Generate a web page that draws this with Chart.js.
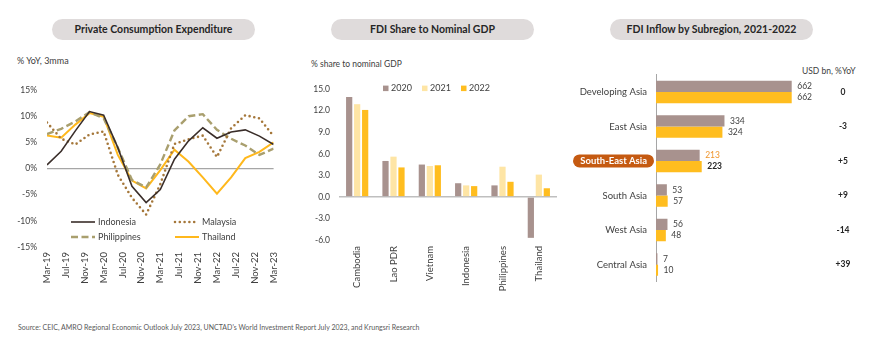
<!DOCTYPE html>
<html>
<head>
<meta charset="utf-8">
<script src="https://cdn.jsdelivr.net/npm/chart.js@4.4.0/dist/chart.umd.min.js"></script>
<style>
  body { margin: 0; background: #fff; font-family: Lato, sans-serif; }
  #page { position: relative; width: 870px; height: 348px; overflow: hidden; }
  .pill { position: absolute; top: 19px; width: 203px; height: 21px; line-height: 21px; border-radius: 11px;
          background: #dfdbdb; color: #262626; font-weight: bold; font-size: 10.5px; text-align: center; }
  .note { position: absolute; font-size: 8.5px; line-height: 10px; color: #404040; white-space: nowrap; }
  canvas { position: absolute; }
</style>
</head>
<body>
<div id="page">
  <div class="pill" style="left:52px">Private Consumption Expenditure</div>
  <div class="pill" style="left:331px">FDI Share to Nominal GDP</div>
  <div class="pill" style="left:610px">FDI Inflow by Subregion, 2021-2022</div>
  <div class="note" style="left:17px;top:56px;font-size:9px">% YoY, 3mma</div>
  <div class="note" style="left:311px;top:59px">% share to nominal GDP</div>
  <div class="note" style="left:802px;top:66px">USD bn, %YoY</div>
  <div class="note" style="left:18px;top:322px;font-size:7px;color:#595959">Source: CEIC, AMRO Regional Economic Outlook July 2023, UNCTAD's World Investment Report July 2023, and Krungsri Research</div>
  <canvas id="pce" width="290" height="222" style="left:0;top:75px"></canvas>
  <canvas id="fdiShare" width="290" height="225" style="left:290px;top:75px"></canvas>
  <canvas id="fdiInflow" width="310" height="250" style="left:560px;top:60px"></canvas>
</div>
<script>
const MONTHS = ['Jan','Feb','Mar','Apr','May','Jun','Jul','Aug','Sep','Oct','Nov','Dec'];

// private consumption, % YoY 3mma (quarterly)
const pceQuarters = ['Mar-19','Jun-19','Sep-19','Dec-19','Mar-20','Jun-20','Sep-20','Dec-20','Mar-21',
                     'Jun-21','Sep-21','Dec-21','Mar-22','Jun-22','Sep-22','Dec-22','Mar-23'];
const pceTickLabels = ['Mar-19','Jul-19','Nov-19','Mar-20','Jul-20','Nov-20','Mar-21','Jul-21','Nov-21',
                       'Mar-22','Jul-22','Nov-22','Mar-23'];
const indonesia   = [0.7, 3.3, 7.2, 10.9, 10.2, 4.0, -3.4, -6.5, -4.0, 1.8, 5.3, 7.8, 5.8, 7.0, 7.4, 6.2, 4.6];
const malaysia    = [8.8, 5.7, 4.6, 6.5, 7.1, -1.2, -5.6, -8.8, -3.0, 4.7, 5.6, 6.3, 2.2, 7.7, 10.2, 9.6, 6.2];
const philippines = [6.6, 7.6, 9.0, 10.8, 9.6, 4.0, -2.2, -3.6, 0.8, 7.3, 10.0, 10.4, 7.4, 5.7, 4.4, 2.6, 3.8];
const thailand    = [6.3, 5.9, 8.4, 10.6, 9.9, 2.6, -2.3, -3.8, -0.3, 3.6, 1.3, -1.7, -4.8, -1.7, 2.0, 3.2, 5.0];

// FDI share to nominal GDP, %
const fdiCountries = ['Cambodia','Lao PDR','Vietnam','Indonesia','Philippines','Thailand'];
const fdi2020 = [13.9, 5.0, 4.5, 1.9, 1.6, -5.7];
const fdi2021 = [12.9, 5.6, 4.3, 1.6, 4.2, 3.1];
const fdi2022 = [12.1, 4.1, 4.4, 1.5, 2.1, 1.2];

// FDI inflow by subregion, USD bn
const subregions = ['Developing Asia','East Asia','South-East Asia','South Asia','West Asia','Central Asia'];
const inflow2021 = [662, 334, 213, 53, 56, 7];
const inflow2022 = [662, 324, 223, 57, 48, 10];
const inflowYoY = ['0', '-3', '+5', '+9', '-14', '+39'];
const highlightRegion = 'South-East Asia';

const TEXT = '#404040';
const TAUPE = '#a8928e';
const CREAM = '#fee5a5';
const GOLD = '#ffbd1f';

Chart.defaults.font.family = 'Lato, sans-serif';
Chart.defaults.color = TEXT;
Chart.defaults.animation = false;
Chart.defaults.plugins.legend.display = false;
Chart.defaults.plugins.tooltip.enabled = false;

// months since Mar-19
const monthIndex = s => {
  const [m, y] = s.split('-');
  return (Number(y) - 19) * 12 + MONTHS.indexOf(m) - 2;
};
const toPoints = values => pceQuarters.map((q, i) => ({ x: monthIndex(q), y: values[i] }));

const lineLegend = {
  id: 'lineLegend',
  afterDraw(chart) {
    const { ctx, chartArea } = chart;
    const cols = [chartArea.left + 24, chartArea.left + 128];
    const rows = [chartArea.bottom - 25, chartArea.bottom - 10];
    chart.data.datasets.forEach((ds, i) => {
      const x = cols[i % 2], y = rows[Math.floor(i / 2)];
      ctx.save();
      ctx.strokeStyle = ds.borderColor;
      ctx.lineWidth = ds.borderWidth;
      ctx.lineCap = ds.borderCapStyle || 'butt';
      ctx.setLineDash(ds.borderDash || []);
      ctx.beginPath();
      ctx.moveTo(x, y);
      ctx.lineTo(x + 24, y);
      ctx.stroke();
      ctx.fillStyle = TEXT;
      ctx.font = '9px Lato';
      ctx.textBaseline = 'middle';
      ctx.fillText(ds.label, x + 27, y);
      ctx.restore();
    });
  }
};

const boxLegend = (offsetX, offsetY, step) => ({
  id: 'boxLegend',
  afterDraw(chart) {
    const { ctx, chartArea } = chart;
    ctx.save();
    ctx.font = '9px Lato';
    ctx.textBaseline = 'middle';
    chart.data.datasets.forEach((ds, i) => {
      const x = chartArea.left + offsetX + i * step;
      const y = (offsetY < 0 ? chartArea.top : chartArea.bottom) + offsetY;
      ctx.fillStyle = ds.backgroundColor;
      ctx.fillRect(x, y - 2.5, 5.5, 5.5);
      ctx.fillStyle = TEXT;
      ctx.fillText(ds.label, x + 8, y);
    });
    ctx.restore();
  }
});

new Chart(document.getElementById('pce'), {
  type: 'line',
  data: {
    datasets: [
      { label: 'Indonesia', data: toPoints(indonesia), borderColor: '#3a2e2a', borderWidth: 1.6 },
      { label: 'Malaysia', data: toPoints(malaysia), borderColor: '#a5773a', borderWidth: 2.6,
        borderDash: [0, 4.8], borderCapStyle: 'round' },
      { label: 'Philippines', data: toPoints(philippines), borderColor: '#a99f6e', borderWidth: 2.4,
        borderDash: [7, 3.5] },
      { label: 'Thailand', data: toPoints(thailand), borderColor: '#ffb81c', borderWidth: 2 }
    ]
  },
  options: {
    responsive: false,
    layout: { padding: { top: 9, right: 8, left: 0, bottom: 0 } },
    elements: { point: { radius: 0 }, line: { tension: 0 } },
    scales: {
      x: {
        type: 'linear', min: 0, max: 48,
        grid: { display: false, drawTicks: false }, border: { display: false },
        ticks: { stepSize: 4, autoSkip: false, minRotation: 90, maxRotation: 90, padding: 5,
                 font: { size: 9.5 }, callback: v => pceTickLabels[v / 4] },
        afterFit: s => { s.height = 50; }
      },
      y: {
        min: -15, max: 15,
        grid: { drawTicks: false, lineWidth: 1.2, color: c => c.tick.value === 0 ? '#a6a6a6' : 'transparent' },
        border: { display: false },
        ticks: { stepSize: 5, padding: 10, font: { size: 8.5 }, callback: v => v + '%' },
        afterFit: s => { s.width = 47; }
      }
    }
  },
  plugins: [lineLegend]
});

new Chart(document.getElementById('fdiShare'), {
  type: 'bar',
  data: {
    labels: fdiCountries,
    datasets: [
      { label: '2020', data: fdi2020, backgroundColor: TAUPE },
      { label: '2021', data: fdi2021, backgroundColor: CREAM },
      { label: '2022', data: fdi2022, backgroundColor: GOLD }
    ]
  },
  options: {
    responsive: false,
    layout: { padding: { top: 8, right: 23, left: 0, bottom: 0 } },
    datasets: { bar: { categoryPercentage: 0.66, barPercentage: 0.78 } },
    scales: {
      x: {
        grid: { display: false, drawTicks: false }, border: { display: false },
        ticks: { autoSkip: false, minRotation: 90, maxRotation: 90, padding: 6, font: { size: 9.5 } },
        afterFit: s => { s.height = 60; }
      },
      y: {
        min: -6, max: 15,
        grid: { drawTicks: false, lineWidth: 1.5, color: c => c.tick.value === 0 ? '#bfbfbf' : 'transparent' },
        border: { display: false },
        ticks: { stepSize: 3, padding: 9, font: { size: 8.5 }, callback: v => v.toFixed(1) },
        afterFit: s => { s.width = 49; }
      }
    }
  },
  plugins: [boxLegend(44, -1, 39)]
});

const hiIndex = subregions.indexOf(highlightRegion);

const inflowLabels = {
  id: 'inflowLabels',
  beforeDraw(chart) {
    // orange tag behind the highlighted subregion
    const { ctx } = chart;
    const y = chart.scales.y.getPixelForTick(hiIndex);
    ctx.save();
    ctx.fillStyle = '#c55a11';
    ctx.beginPath();
    ctx.roundRect(13, y - 6.5, 81, 13, 6.5);
    ctx.fill();
    ctx.restore();
  },
  afterDatasetsDraw(chart) {
    const { ctx } = chart;
    ctx.save();
    ctx.textBaseline = 'middle';
    chart.data.datasets.forEach((ds, d) => {
      chart.getDatasetMeta(d).data.forEach((bar, i) => {
        ctx.font = '8.5px Lato';
        ctx.fillStyle = TEXT;
        if (i === hiIndex) {
          if (d === 0) ctx.fillStyle = '#f0962e';
          else { ctx.font = 'bold 8.5px Lato'; ctx.fillStyle = '#262626'; }
        }
        ctx.fillText(String(ds.data[i]), bar.x + 5.5, bar.y);
      });
    });
    ctx.font = 'bold 8.5px Lato';
    ctx.fillStyle = '#262626';
    ctx.textAlign = 'center';
    inflowYoY.forEach((t, i) => ctx.fillText(t, chart.width - 27, chart.scales.y.getPixelForTick(i)));
    ctx.restore();
  }
};

new Chart(document.getElementById('fdiInflow'), {
  type: 'bar',
  data: {
    labels: subregions,
    datasets: [
      { label: '2021', data: inflow2021, backgroundColor: TAUPE },
      { label: '2022', data: inflow2022, backgroundColor: GOLD }
    ]
  },
  options: {
    responsive: false,
    indexAxis: 'y',
    layout: { padding: { top: 13.3, right: 70.5, left: 0, bottom: 28.3 } },
    datasets: { bar: { categoryPercentage: 0.65, barPercentage: 1.0 } },
    scales: {
      x: { display: false, min: 0, max: 700 },
      y: {
        grid: { display: false, drawTicks: false },
        border: { display: true, color: '#a6a6a6', width: 1 },
        ticks: {
          padding: 9,
          color: c => c.index === hiIndex ? '#ffffff' : TEXT,
          font: c => c.index === hiIndex ? { size: 9.5, weight: 'bold' } : { size: 9.5 }
        },
        afterFit: s => { s.width = 96; }
      }
    }
  },
  plugins: [inflowLabels, boxLegend(-521, 18.5, 38)]
});
</script>
</body>
</html>
